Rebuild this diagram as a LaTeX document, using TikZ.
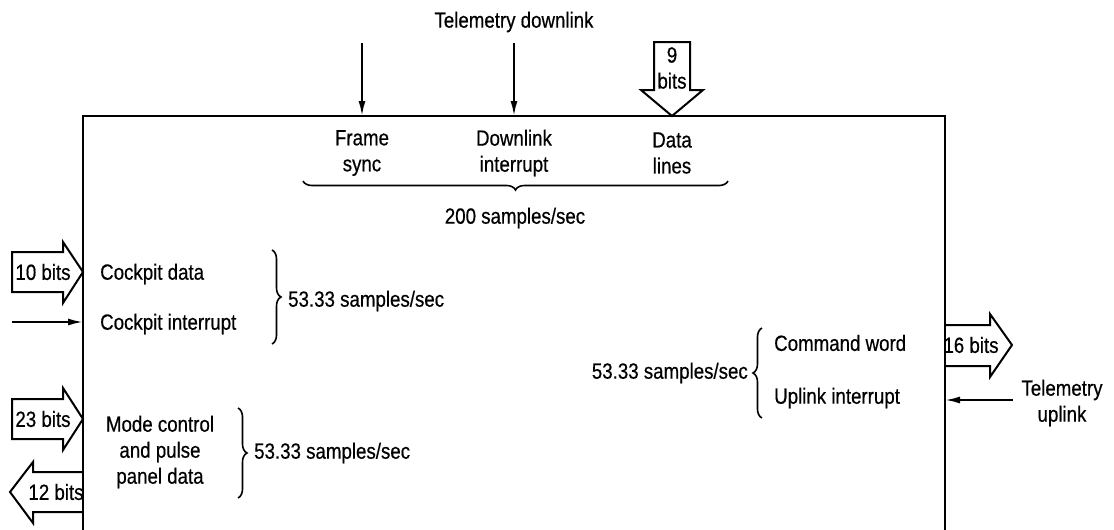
\documentclass[tikz,border=0pt]{standalone}
\usepackage{fontspec}
\setmainfont{Liberation Sans}[FakeStretch=0.85,FakeBold=0.5]
\usetikzlibrary{arrows.meta,positioning,decorations.pathreplacing}

\tikzset{
	unitedge/.style={line width=2.6pt},
	sig/.style={line width=2pt,-{Latex[length=15pt,width=7pt]}},
	fatarrow/.style={line width=2pt,line join=miter},
	lbl/.style={font=\fontsize{22}{26}\selectfont,inner sep=0pt},
	brc/.style={decorate,decoration={brace,amplitude=9pt},line width=1.6pt}
}

\begin{document}
\begin{tikzpicture}[x=1pt,y=-1pt]
	\useasboundingbox (0,0) rectangle (1114,530);
	% unit outline, open at the bottom
	\coordinate (nw) at (83,116);
	\coordinate (ne) at (945,116);
	\draw[unitedge] (83,530) -- (nw) -- (ne) -- (945,530);

	% telemetry downlink
	\node[lbl] (tdl) at (514,22) {Telemetry downlink};
	\coordinate (fsin) at (362,43);
	\coordinate (diin) at (514,43);
	\draw[sig] (fsin) -- (fsin |- nw);
	\draw[sig] (diin) -- (diin |- nw);
	\draw[fatarrow] (654,42) -- (690,42) -- (690,90) -- (703,90) -- (672,116)
		-- (641,90) -- (654,90) -- cycle;
	\node[lbl,align=center] (b9) at (672,68) {9\\bits};
	\node[lbl,align=center] (fsync) at (362,153) {Frame\\sync};
	\node[lbl,align=center] (dint) at (514,153) {Downlink\\interrupt};
	\node[lbl,align=center] (dlines) at (672,153) {Data\\lines};
	\draw[brc,decoration={mirror}] (303,181) -- (728,181);
	\node[lbl] (s200) at (515,218) {200 samples/sec};

	% cockpit
	\draw[fatarrow] (12,252) -- (63,252) -- (63,242) -- (83,272) -- (63,303)
		-- (63,292) -- (12,292) -- cycle;
	\node[lbl] (b10) at (43,272) {10 bits};
	\coordinate (ciin) at (12,322);
	\draw[sig] (ciin) -- (ciin -| nw);
	\node[lbl,anchor=west] (cdata) at (100,274) {Cockpit data};
	\node[lbl,anchor=west] (cint) at (100,324) {Cockpit interrupt};
	\draw[brc] (272,250) -- (272,344);
	\node[lbl,anchor=west] (s53a) at (288,301) {53.33 samples/sec};

	% mode control and pulse panel
	\draw[fatarrow] (12,399) -- (63,399) -- (63,388) -- (83,419) -- (63,450)
		-- (63,439) -- (12,439) -- cycle;
	\node[lbl] (b23) at (43,419) {23 bits};
	\draw[fatarrow] (83,472) -- (33,472) -- (33,462) -- (10,492) -- (33,523)
		-- (33,512) -- (83,512);
	\node[lbl] (b12) at (56,492) {12 bits};
	\node[lbl,align=center] (mode) at (160,452) {Mode control\\and pulse\\panel data};
	\draw[brc] (238,408) -- (238,498);
	\node[lbl,anchor=west] (s53b) at (254,453) {53.33 samples/sec};

	% uplink
	\node[lbl,anchor=west] (cword) at (774,343) {Command word};
	\node[lbl,anchor=west] (uint) at (774,398) {Uplink interrupt};
	\draw[brc] (762,418) -- (762,328);
	\node[lbl,anchor=east] (s53c) at (748,373) {53.33 samples/sec};
	\draw[fatarrow] (945,325) -- (990,325) -- (990,314) -- (1012,345) -- (990,377)
		-- (990,366) -- (945,366);
	\node[lbl] (b16) at (971,345) {16 bits};
	\node[lbl,align=center] (tul) at (1062,403) {Telemetry\\uplink};
	\coordinate (ulin) at (1013,400);
	\draw[sig] (ulin) -- (ulin -| ne);
\end{tikzpicture}
\end{document}
